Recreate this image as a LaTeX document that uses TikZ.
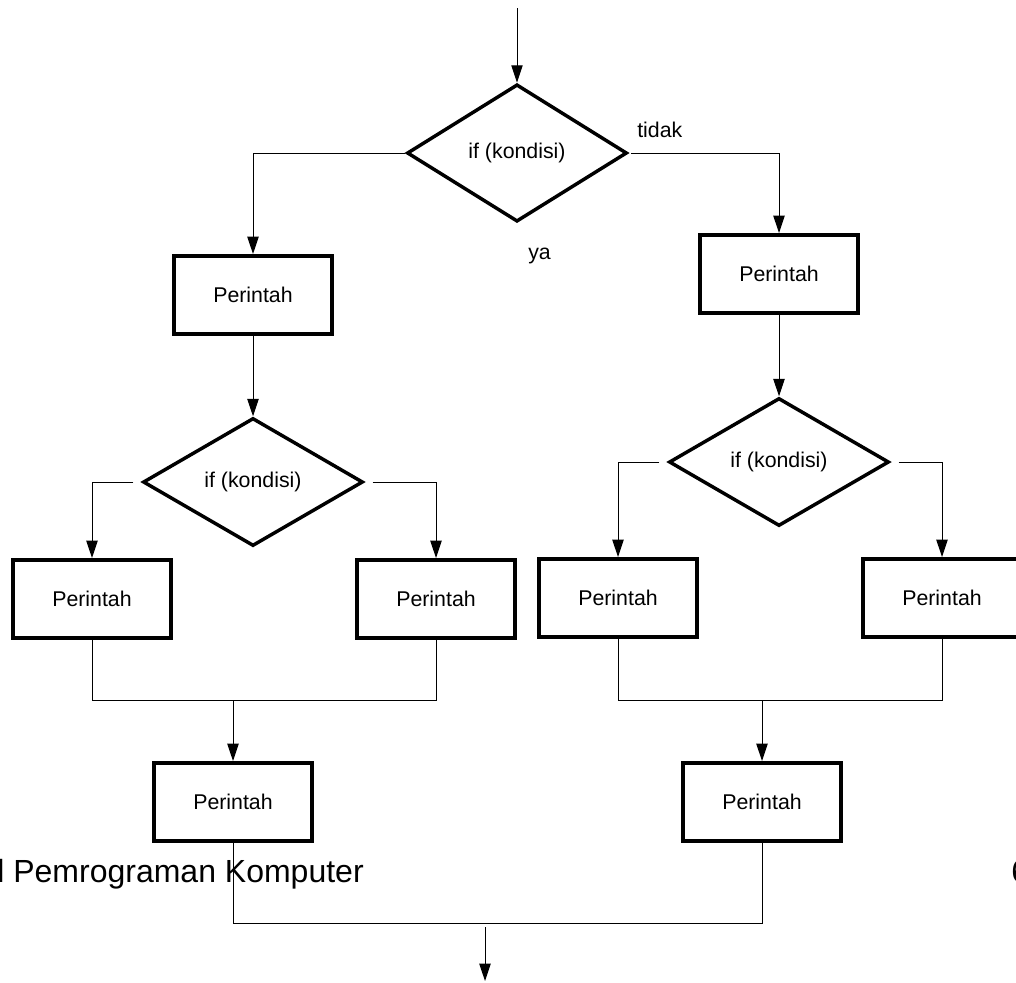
\documentclass[tikz,border=0pt]{standalone}
\usepackage{fontspec}
\setmainfont{Liberation Sans}
\usetikzlibrary{shapes.geometric, arrows.meta}

\begin{document}
\begin{tikzpicture}[x=0.75pt, y=-0.75pt,
decision/.style={diamond, draw, line width=2.6pt, inner sep=0pt, shape aspect=2, minimum width=165pt, minimum height=96pt, font=\fontsize{16pt}{19pt}\selectfont},
command/.style={rectangle, draw, line width=3pt, inner sep=0pt, minimum width=119pt, minimum height=58.5pt, font=\fontsize{16pt}{19pt}\selectfont},
flow/.style={-{Triangle[length=13pt, width=8.5pt]}, line width=0.75pt},
joint/.style={line width=0.75pt},
note/.style={inner sep=0pt, font=\fontsize{16pt}{19pt}\selectfont},
]

\useasboundingbox (0,0) rectangle (1016,982);
\clip (0,0) rectangle (1016,982);

%Nodes
\coordinate (start) at (517,8);
\node [decision, minimum height=103pt] (ifTop) at (517,153) {if (kondisi)};
\node [command] (yaCmd) at (253,295) {Perintah};
\node [command] (tidakCmd) at (779,274) {Perintah};
\node [decision] (ifLeft) at (253,482) {if (kondisi)};
\node [decision] (ifRight) at (779,462) {if (kondisi)};
\node [command] (cmdLL) at (92,599) {Perintah};
\node [command] (cmdLR) at (436,599) {Perintah};
\node [command] (cmdRL) at (618,598) {Perintah};
\node [command] (cmdRR) at (942,598) {Perintah};
\node [command] (joinL) at (233,802) {Perintah};
\node [command] (joinR) at (762,802) {Perintah};
\coordinate (mergeL) at (233,700);
\coordinate (mergeR) at (762,700);
\coordinate (mergeEnd) at (485,923);
\coordinate (outTop) at (485,927);
\coordinate (outEnd) at (485,981);

\node [note, anchor=base west] (tidak) at (637,137) {tidak};
\node [note, anchor=base west] (ya) at (528,259) {ya};
\node [inner sep=0pt, anchor=base east, font=\fontsize{24pt}{28pt}\selectfont] (footer) at (364,882) {l Pemrograman Komputer};
\node [inner sep=0pt, anchor=base west, font=\fontsize{24pt}{28pt}\selectfont] (page) at (1011,882) {6};

% Paths
\draw [flow] (start) -- (ifTop.north);
\draw [flow] (ifTop.west) -| (yaCmd.north);
\draw [flow, shorten <=2pt] (ifTop.east) -| (tidakCmd.north);
\draw [flow] (yaCmd.south) -- (ifLeft.north);
\draw [flow] (tidakCmd.south) -- (ifRight.north);

\draw [flow, shorten <=6pt] (ifLeft.west) -| (cmdLL.north);
\draw [flow, shorten <=6pt] (ifLeft.east) -| (cmdLR.north);
\draw [flow, shorten <=6pt] (ifRight.west) -| (cmdRL.north);
\draw [flow, shorten <=6pt] (ifRight.east) -| (cmdRR.north);

\draw [joint] (cmdLL.south) |- (mergeL) -| (cmdLR.south);
\draw [flow] (mergeL) -- (joinL.north);
\draw [joint] (cmdRL.south) |- (mergeR) -| (cmdRR.south);
\draw [flow] (mergeR) -- (joinR.north);

\draw [joint] (joinL.south) |- (mergeEnd) -| (joinR.south);
\draw [flow] (outTop) -- (outEnd);
\end{tikzpicture}
\end{document}
